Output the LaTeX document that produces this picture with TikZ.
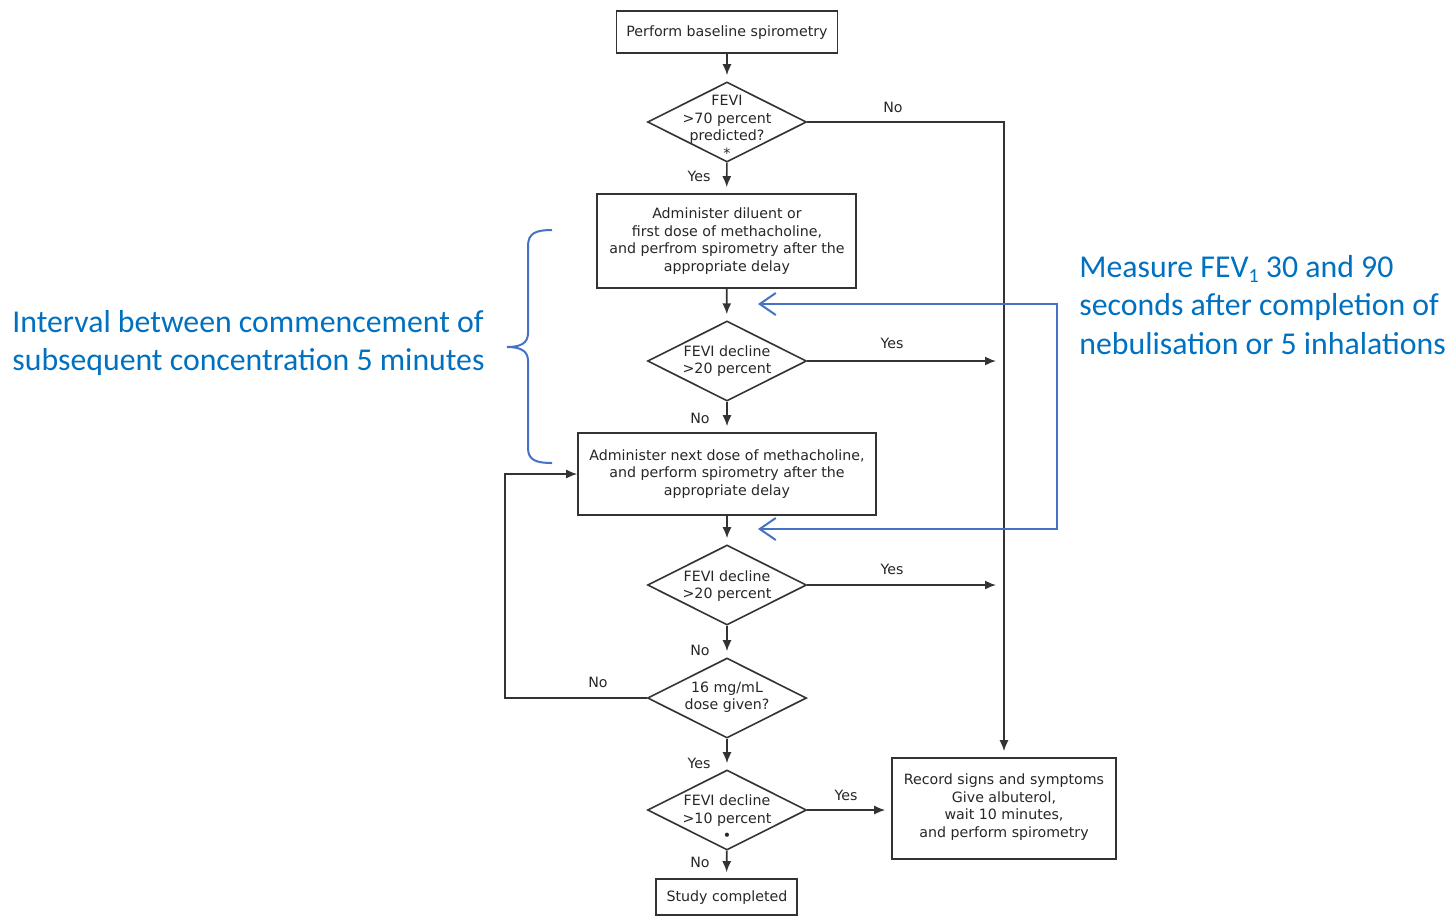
\documentclass[tikz,border=0pt]{standalone}
\usepackage{fontspec}
\setmainfont{DejaVu Sans}
\newfontfamily\calfont{Carlito}
\usetikzlibrary{shapes.geometric,arrows.meta}
\definecolor{ln}{HTML}{333333}
\definecolor{bl}{HTML}{4472C4}
\definecolor{bt}{HTML}{0070C0}
\begin{document}
\begin{tikzpicture}[x=0.5pt,y=-0.5pt,
  every node/.style={font=\fontsize{7.1}{8.75}\selectfont, text=black!85},
  box/.style={draw=ln, line width=0.8pt, inner sep=0pt},
  dia/.style={draw=ln, line width=0.8pt, diamond, inner sep=0pt, minimum width=79.5pt, minimum height=40pt},
  txt/.style={align=center, inner sep=0pt},
  flow/.style={draw=ln, line width=0.8pt, -{Latex[length=5.5pt,width=4.5pt]}},
  flowv/.style={flow, shorten >=3pt},
  lab/.style={inner sep=0pt},
  bluetext/.style={font=\calfont\fontsize{15.9}{19.2}\selectfont, text=bt, align=left, inner sep=0pt, anchor=west},
  bluepath/.style={draw=bl, line width=1pt},
  bluearrow/.style={bluepath, {Straight Barb[length=8pt,width=11pt,line width=1pt]}-{Straight Barb[length=8pt,width=11pt,line width=1pt]}}
]
\useasboundingbox (0,0) rectangle (1449,917);

% boxes
\node[box, minimum width=110.5pt, minimum height=21pt] (b1) at (727,32) {};
\node[txt] (t1) at (727,33) {Perform baseline spirometry};

\node[dia] (d1) at (727,122) {};
\node[txt] (td1) at (727,127) {FEVI\\ >70 percent\\ predicted?\\ *};

\node[box, minimum width=129.5pt, minimum height=47pt] (b2) at (726.5,241) {};
\node[txt] (t2) at (727,241) {Administer diluent or\\ first dose of methacholine,\\ and perfrom spirometry after the\\ appropriate delay};

\node[dia] (d2) at (727,361) {};
\node[txt] (td2) at (727,361) {FEVI decline\\ >20 percent};

\node[box, minimum width=149pt, minimum height=41pt] (b3) at (727,474) {};
\node[txt] (t3) at (727,474) {Administer next dose of methacholine,\\ and perform spirometry after the\\ appropriate delay};

\node[dia] (d3) at (727,585) {};
\node[txt] (td3) at (727,586) {FEVI decline\\ >20 percent};

\node[dia] (d4) at (727,698) {};
\node[txt] (td4) at (727,697) {16 mg/mL\\ dose given?};

\node[dia] (d5) at (727,810) {};
\node[txt] (td5) at (727,818) {FEVI decline\\ >10 percent\\ •};

\node[box, minimum width=70.5pt, minimum height=18pt] (b4) at (726.5,897) {};
\node[txt] (t4) at (727,898) {Study completed};

\node[box, minimum width=112pt, minimum height=50.5pt] (b5) at (1004,808.5) {};
\node[txt] (t5) at (1004,807) {Record signs and symptoms\\ Give albuterol,\\ wait 10 minutes,\\ and perform spirometry};

% free ends
\coordinate (y2) at (996,361);
\coordinate (y3) at (996,585);
\coordinate (lp) at (505,474);

% connectors
\draw[flowv] (b1) -- (d1);
\draw[flowv] (d1) -- (b2);
\draw[flowv] (b2) -- (d2);
\draw[flowv] (d2) -- (b3);
\draw[flowv] (b3) -- (d3);
\draw[flowv] (d3) -- (d4);
\draw[flowv] (d4) -- (d5);
\draw[flowv] (d5) -- (b4);
\draw[flow, shorten >=3pt] (d1.east) -| (b5.north);
\draw[flow] (d2.east) -- (y2);
\draw[flow] (d3.east) -- (y3);
\draw[flow] (d4.west) -| (lp) -- (b3.west);
\draw[flow, shorten >=3pt] (d5.east) -- (d5.east -| b5.west);

% labels
\node[lab] (l1) at (893,107) {No};
\node[lab] (l2) at (699,176) {Yes};
\node[lab] (l3) at (892,343) {Yes};
\node[lab] (l4) at (700,418) {No};
\node[lab] (l5) at (892,569) {Yes};
\node[lab] (l6) at (700,650) {No};
\node[lab] (l7) at (598,682) {No};
\node[lab] (l8) at (699,763) {Yes};
\node[lab] (l9) at (846,795) {Yes};
\node[lab] (l10) at (700,862) {No};

% blue annotations
\node[bluetext] (ann1) at (12,343) {Interval between commencement of\\ subsequent concentration 5 minutes};
\node[bluetext] (ann2) at (1079,305) {Measure FEV\raisebox{-0.35ex}{\fontsize{10}{10}\selectfont 1} 30 and 90\\ seconds after completion of\\ nebulisation or 5 inhalations};

\draw[bluepath] (552,230) .. controls (536,230) and (528,233) .. (528,246) -- (528,333)
  .. controls (528,343) and (521,347) .. (507,347)
  .. controls (521,347) and (528,351) .. (528,361) -- (528,448)
  .. controls (528,460) and (536,463) .. (552,463);

\coordinate (m1) at (758,304);
\coordinate (m2) at (1057,304);
\coordinate (m3) at (1057,529);
\coordinate (m4) at (758,529);
\draw[bluearrow] (m1) -- (m2) -- (m3) -- (m4);
\end{tikzpicture}
\end{document}
